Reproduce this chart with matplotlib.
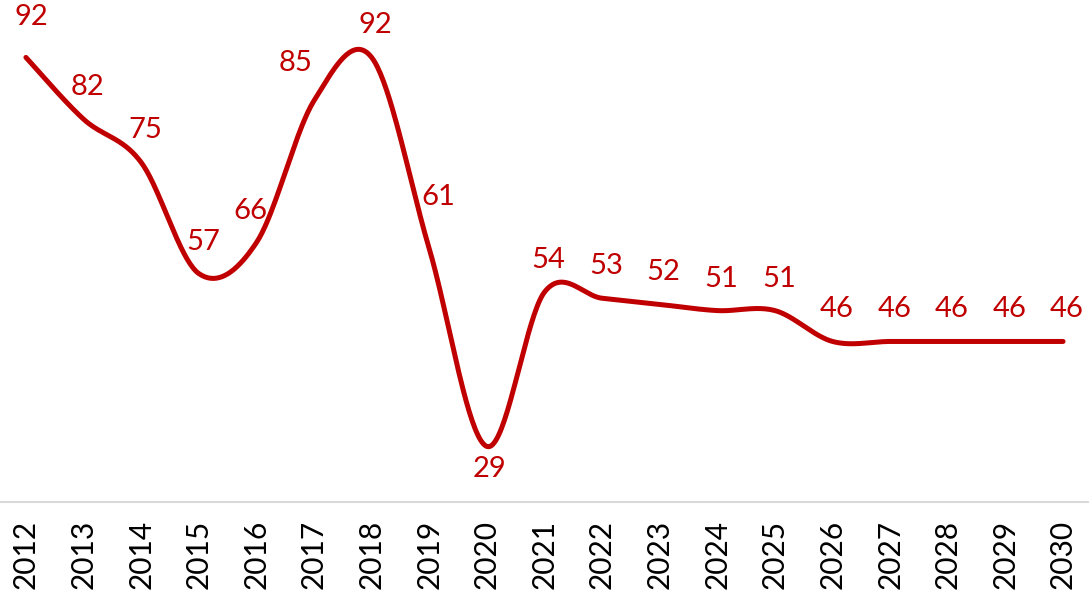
import numpy as np
import matplotlib.pyplot as plt

years = [str(y) for y in range(2012, 2031)]
labels = [92, 82, 75, 57, 66, 85, 92, 61, 29, 54, 53, 52, 51, 51, 46, 46, 46, 46, 46]
# the drawn line sits a bit lower than its label at 2016 in the picture
line_values = [92, 82, 75, 57, 62, 85, 92, 61, 29, 54, 53, 52, 51, 51, 46, 46, 46, 46, 46]

# label nudges in pixels (dx, dy) relative to the point
label_offsets = {0: (5, 40), 4: (-6, 32), 5: (-18, 38), 7: (9, 52), 8: (3, -23)}

plt.rcParams['font.family'] = ['Lato', 'DejaVu Sans']

red = "#C00000"


def smooth(xs, ys, n=40):
    # Catmull-Rom style bezier, similar to Excel's smoothed line
    xs = np.asarray(xs, float)
    ys = np.asarray(ys, float)
    px, py = [], []
    m = len(xs)
    for i in range(m - 1):
        p0 = (xs[max(i - 1, 0)], ys[max(i - 1, 0)])
        p1 = (xs[i], ys[i])
        p2 = (xs[i + 1], ys[i + 1])
        p3 = (xs[min(i + 2, m - 1)], ys[min(i + 2, m - 1)])
        c1 = (p1[0] + (p2[0] - p0[0]) / 6, p1[1] + (p2[1] - p0[1]) / 6)
        c2 = (p2[0] - (p3[0] - p1[0]) / 6, p2[1] - (p3[1] - p1[1]) / 6)
        t = np.linspace(0, 1, n)
        a = (1 - t) ** 3
        b = 3 * (1 - t) ** 2 * t
        c = 3 * (1 - t) * t ** 2
        d = t ** 3
        px.extend(a * p1[0] + b * c1[0] + c * c2[0] + d * p2[0])
        py.extend(a * p1[1] + b * c1[1] + c * c2[1] + d * p2[1])
    return np.array(px), np.array(py)


x = np.arange(len(years))
sx, sy = smooth(x, line_values)

fig = plt.figure(figsize=(10.89, 5.98), dpi=100)
ax = fig.add_axes([0, 0.1605, 1, 0.8261])

ax.plot(sx, sy, color=red, linewidth=3.6, solid_capstyle="round")

for i, v in enumerate(labels):
    dx, dy = label_offsets.get(i, (4, 32))
    ax.annotate(str(v), (x[i], line_values[i]), xytext=(dx, dy), textcoords="offset pixels",
                ha="center", va="center", color=red, fontsize=21)

ax.set_xlim(-0.45, 18.45)
ax.set_ylim(20, 100)
ax.set_xticks(x)
ax.set_xticklabels(years, rotation=90, fontsize=21.5)
ax.tick_params(axis="x", length=0, pad=13)
ax.set_yticks([])
for s in ["top", "left", "right"]:
    ax.spines[s].set_visible(False)
ax.spines["bottom"].set_color("#D9D9D9")
ax.spines["bottom"].set_linewidth(1.5)

plt.savefig("out.png", dpi=100)
